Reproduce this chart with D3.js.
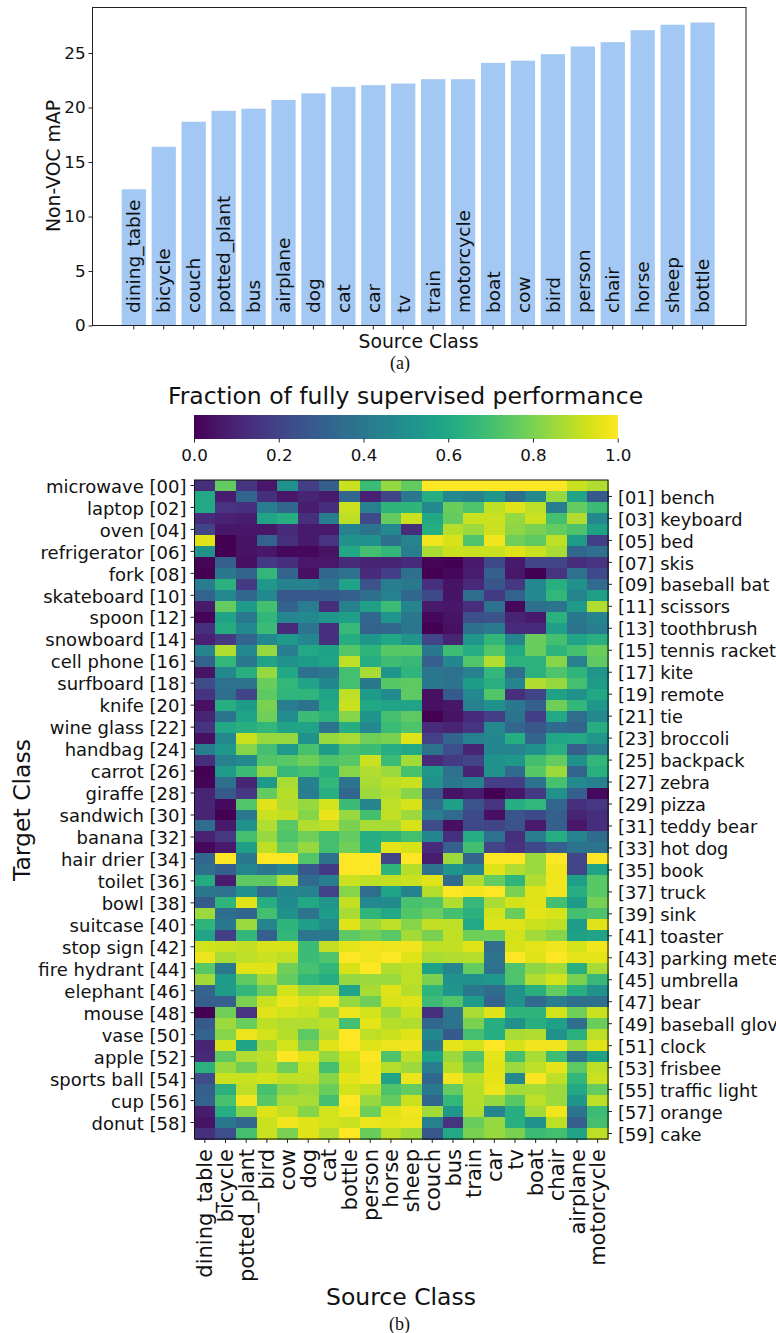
<!DOCTYPE html>
<html>
<head>
<meta charset="utf-8">
<script src="https://cdn.jsdelivr.net/npm/d3@7"></script>
<style>
  html, body { margin: 0; padding: 0; background: #fff; overflow: hidden; }
  text { font-family: "DejaVu Sans", sans-serif; fill: #111; }
  .caption { font-family: "Liberation Serif", serif; }
  .domain, .tick line { stroke: #222; }
  .cell { shape-rendering: crispEdges; }
</style>
</head>
<body>
<div id="chart"></div>
<script>
const barClasses = ["dining_table", "bicycle", "couch", "potted_plant", "bus", "airplane", "dog", "cat", "car", "tv",
    "train", "motorcycle", "boat", "cow", "bird", "person", "chair", "horse", "sheep", "bottle"];
const barValues = [12.5, 16.4, 18.7, 19.7, 19.9, 20.7, 21.3, 21.9, 22.05, 22.2,
    22.6, 22.6, 24.1, 24.3, 24.9, 25.6, 26, 27.1, 27.6, 27.8];

const sourceClasses = ["dining_table", "bicycle", "potted_plant", "bird", "cow", "dog", "cat", "bottle", "person", "horse",
    "sheep", "couch", "bus", "train", "car", "tv", "boat", "chair", "airplane", "motorcycle"];
const targetClasses = ["microwave", "bench", "laptop", "keyboard", "oven", "bed", "refrigerator", "skis", "fork", "baseball bat",
    "skateboard", "scissors", "spoon", "toothbrush", "snowboard", "tennis racket", "cell phone", "kite", "surfboard", "remote",
    "knife", "tie", "wine glass", "broccoli", "handbag", "backpack", "carrot", "zebra", "giraffe", "pizza",
    "sandwich", "teddy bear", "banana", "hot dog", "hair drier", "book", "toilet", "truck", "bowl", "sink",
    "suitcase", "toaster", "stop sign", "parking meter", "fire hydrant", "umbrella", "elephant", "bear", "mouse", "baseball glove",
    "vase", "clock", "apple", "frisbee", "sports ball", "traffic light", "cup", "orange", "donut", "cake"];

// one row per target class, one column per source class
const fractions = [
    [.13,.76,.15,.06,.5,.18,.3,.92,.68,.84,.76,1,1,1,1,1,1,1,.92,.88],
    [.6,.08,.33,.14,.06,.1,.07,.33,.09,.2,.4,.62,.47,.45,.52,.36,.47,.84,.58,.28],
    [.6,.15,.14,.42,.33,.08,.13,.92,.43,.65,.65,.47,.77,.72,.9,.95,.9,.42,.76,.68],
    [.12,.09,.08,.58,.62,.14,.42,.9,.22,.76,.92,.6,.76,.92,.92,.84,.92,.7,.88,.47],
    [.2,.06,.06,.06,.12,.07,.07,.44,.38,.47,.13,.62,.89,.85,.92,.83,.8,.76,.72,.57],
    [.95,0,.05,.31,.14,.07,.15,.5,.5,.36,.45,.98,.94,.72,.98,.78,.75,.9,.55,.18],
    [.5,0,.05,.06,.02,.02,.05,.6,.7,.66,.42,.87,.92,.92,.92,.95,.92,.87,.33,.37],
    [.01,.3,.04,.17,.13,.06,.06,.12,.1,.1,.12,.01,0,.07,.22,.07,.2,.21,.13,.15],
    [0,.4,.32,.66,.32,.04,.33,.37,.12,.18,.36,0,.02,.08,.3,.06,0,.15,.37,.22],
    [.42,.64,.17,.53,.44,.44,.38,.58,.25,.42,.4,.14,.05,.11,.26,.16,.47,.63,.5,.34],
    [.32,.47,.33,.47,.27,.27,.28,.3,.36,.43,.33,.22,.05,.35,.17,.31,.47,.66,.45,.56],
    [.07,.76,.55,.7,.31,.42,.13,.43,.57,.68,.45,.07,.06,.13,.37,.02,.36,.38,.55,.88],
    [.01,.58,.4,.66,.46,.47,.53,.56,.33,.52,.4,.02,.05,.24,.25,.1,.07,.64,.4,.45],
    [.14,.61,.47,.68,.12,.39,.14,.67,.31,.33,.39,0,.04,.36,.41,.12,.12,.56,.38,.42],
    [.09,.17,.32,.47,.54,.46,.14,.62,.53,.6,.52,.21,.1,.52,.66,.45,.77,.7,.58,.63],
    [.45,.88,.47,.84,.42,.6,.57,.73,.65,.74,.74,.4,.69,.62,.73,.6,.77,.65,.7,.77],
    [.31,.66,.4,.58,.5,.55,.58,.9,.62,.69,.67,.3,.46,.73,.88,.64,.64,.82,.43,.75],
    [.05,.47,.63,.84,.6,.37,.4,.7,.87,.52,.65,.39,.37,.43,.66,.36,.64,.72,.65,.52],
    [.23,.37,.38,.77,.66,.58,.46,.7,.4,.74,.75,.4,.38,.55,.63,.45,.88,.84,.7,.55],
    [.15,.36,.2,.75,.65,.65,.58,.9,.55,.48,.75,.04,.28,.47,.73,.14,.2,.57,.5,.6],
    [.04,.62,.55,.8,.42,.38,.6,.92,.6,.58,.58,.04,.06,.43,.5,.4,.3,.78,.66,.53],
    [.1,.38,.58,.78,.48,.68,.64,.82,.52,.7,.75,0,.05,.12,.18,.38,.18,.6,.35,.47],
    [.15,.6,.63,.66,.58,.58,.38,.62,.47,.68,.72,.12,.1,.15,.47,.33,.27,.34,.32,.62],
    [.04,.47,.92,.84,.84,.5,.84,.87,.78,.8,.95,.19,.32,.43,.46,.62,.32,.59,.6,.53],
    [.42,.53,.82,.7,.54,.71,.55,.7,.68,.62,.6,.38,.24,.1,.46,.45,.5,.63,.3,.42],
    [.13,.43,.47,.73,.74,.78,.72,.74,.92,.68,.86,.12,.17,.2,.51,.53,.7,.76,.5,.66],
    [0,.55,.68,.84,.67,.7,.63,.82,.88,.85,.71,.53,.37,.1,.5,.34,.74,.85,.32,.63],
    [.01,.36,.1,.54,.87,.43,.66,.38,.87,.9,.92,.5,.39,.43,.18,.18,.38,.71,.47,.43],
    [.1,.28,.16,.76,.89,.42,.63,.33,.85,.88,.82,.28,.05,.08,0,.06,.17,.5,.3,.02],
    [.1,.03,.73,.95,.88,.84,.93,.68,.45,.9,.94,.35,.56,.25,.15,.62,.66,.33,.14,.16],
    [.1,0,.4,.92,.91,.82,.97,.84,.7,.91,.85,.42,.34,.22,.04,.26,.22,.3,.1,.13],
    [.35,.07,.5,.88,.74,.88,.91,.8,.87,.87,.94,.23,.04,.22,.2,.25,.07,.3,.06,.13],
    [.09,.16,.7,.84,.72,.78,.7,.76,.62,.65,.7,.46,.14,.62,.37,.14,.42,.62,.45,.34],
    [.02,.07,.56,.9,.76,.84,.7,.78,.62,.96,.94,.12,.3,.7,.2,.15,.22,.3,.38,.38],
    [.33,1,.4,1,1,.73,.38,1,1,.2,1,.08,.85,.32,1,1,.85,1,.2,1],
    [.36,.3,.45,.4,.46,.27,.17,1,1,.65,.89,.37,.52,.47,.95,.88,.85,.98,.2,.58],
    [.61,.08,.75,.75,.88,.34,.42,.92,.9,.91,.92,.95,.34,.88,.76,.65,.88,.98,.56,.74],
    [.4,.37,.5,.34,.46,.44,.19,.82,.35,.58,.44,.89,1,.98,1,.8,.95,.98,.62,.74],
    [.28,.65,.95,.62,.48,.6,.52,.91,.47,.48,.71,.73,.88,.67,.87,.93,.95,.7,.55,.79],
    [.85,.36,.33,.7,.5,.38,.55,.87,.65,.6,.73,.77,.7,.64,.93,.77,.96,.94,.7,.72],
    [.65,.4,.85,.45,.65,.56,.48,.95,.85,.9,.82,.91,.9,.6,.95,.95,.92,.9,.55,.95],
    [.58,.18,.66,.3,.66,.39,.41,.75,.78,.74,.86,.8,.9,.78,.78,.93,.86,.82,.57,.58],
    [.93,.92,.91,.94,.94,.68,.91,.96,.98,.97,.98,.9,.91,.95,.35,.94,.96,.98,.93,.98],
    [.97,.87,.9,.92,.9,.68,.72,1,.98,1,.95,.87,.88,.89,.38,1,.95,1,.96,.96],
    [.74,.4,.95,.95,.78,.71,.66,.94,1,.88,.9,.57,.45,.76,.37,.72,.83,.86,.63,.87],
    [.86,.55,.75,.86,.76,.66,.62,.84,.85,.85,.9,.8,.5,.5,.53,.72,.88,.93,.8,.67],
    [.32,.55,.66,.77,.93,.85,.87,.58,.87,.95,.89,.65,.52,.4,.35,.5,.63,.76,.62,.5],
    [.3,.3,.8,.92,.97,.94,.98,.84,.78,.94,.95,.68,.73,.55,.32,.5,.34,.42,.36,.36],
    [0,.78,.15,.95,.93,.92,.84,.97,.93,.85,.92,.14,.38,.87,.95,.65,.65,.93,.78,.92],
    [.27,.85,.77,.9,.88,.88,.9,.7,.96,.89,.88,.33,.38,.8,.62,.5,.63,.57,.36,.77],
    [.32,.82,.97,.93,.89,.75,.88,1,.9,.92,.95,.46,.28,.7,.62,.87,.88,.5,.63,.9],
    [.1,.94,.58,.86,.93,.8,.95,1,.95,.97,.98,.4,.96,.93,1,.94,.98,.98,.85,.95],
    [.12,.75,.88,.9,1,.95,.84,.93,1,.72,.9,.57,.85,.72,.96,.7,.87,.69,.39,.57],
    [.64,.85,.78,.89,.78,.92,.7,.92,.98,.89,.85,.42,.89,.77,.95,.85,.9,.96,.75,.9],
    [.23,.92,.92,.93,.9,.91,.82,.96,.98,.58,.97,.33,.98,.9,.96,.47,.99,.9,.66,.92],
    [.3,.64,.9,.71,.82,.85,.77,.93,.9,.72,.76,.4,.76,.89,.97,.86,.87,.85,.6,.76],
    [.31,.71,.98,.74,.87,.87,.7,1,.84,.76,.92,.33,.66,.89,.84,.74,.9,.85,.52,.9],
    [.08,.62,.82,.95,.91,.82,.93,.98,.78,.95,.98,.86,.52,.88,.45,.62,.86,.98,.38,.68],
    [.05,.4,.33,.92,.98,.95,.93,.92,.97,.96,.97,.43,.15,.77,.84,.63,.5,.9,.3,.7],
    [.14,.24,.7,.92,.8,.95,.88,1,.77,.9,.86,.27,.6,.8,.84,.8,.68,.7,.58,.9]
];

const colorTicks = [0, 0.2, 0.4, 0.6, 0.8, 1];
const barTicks = [0, 5, 10, 15, 20, 25];

const width = 776, height = 1333;
const tickFont = 16.7;

const svg = d3.select("#chart").append("svg")
    .attr("width", width)
    .attr("height", height);

// (a) bar chart
const bar = { left: 92.5, right: 746, top: 7.5, bottom: 325.5 };

const xBar = d3.scaleBand()
    .domain(barClasses)
    .range([118.7, 717.7])
    .paddingInner(0.19)
    .paddingOuter(0.1);

const yBar = d3.scaleLinear()
    .domain([0, 29.18])
    .range([bar.bottom, bar.top]);

svg.append("g")
    .selectAll("rect")
    .data(barClasses)
    .join("rect")
    .attr("x", d => xBar(d))
    .attr("y", (d, i) => yBar(barValues[i]))
    .attr("width", xBar.bandwidth())
    .attr("height", (d, i) => yBar(0) - yBar(barValues[i]))
    .attr("fill", "#a2c8f3");

svg.append("rect")
    .attr("x", bar.left)
    .attr("y", bar.top)
    .attr("width", bar.right - bar.left)
    .attr("height", bar.bottom - bar.top)
    .attr("fill", "none")
    .attr("stroke", "#222");

svg.append("g")
    .attr("transform", `translate(${bar.left},0)`)
    .call(d3.axisLeft(yBar).tickValues(barTicks).tickSize(4).tickPadding(3))
    .call(g => g.select(".domain").remove())
    .call(g => g.selectAll(".tick text").attr("font-size", tickFont).attr("font-family", null));

svg.append("g")
    .attr("transform", `translate(0,${bar.bottom})`)
    .call(d3.axisBottom(xBar).tickSize(4).tickFormat(""))
    .call(g => g.select(".domain").remove());

svg.append("g")
    .selectAll("text")
    .data(barClasses)
    .join("text")
    .attr("transform", d => `translate(${xBar(d) + xBar.bandwidth() / 2},313) rotate(-90)`)
    .attr("dy", "0.36em")
    .attr("font-size", 18.5)
    .text(d => d);

svg.append("text")
    .attr("transform", "translate(53,166) rotate(-90)")
    .attr("text-anchor", "middle")
    .attr("dy", "0.36em")
    .attr("font-size", 18.8)
    .text("Non-VOC mAP");

svg.append("text")
    .attr("x", 418.5)
    .attr("y", 348)
    .attr("text-anchor", "middle")
    .attr("font-size", 18.8)
    .text("Source Class");

svg.append("text")
    .attr("class", "caption")
    .attr("x", 400)
    .attr("y", 369)
    .attr("text-anchor", "middle")
    .attr("font-size", 18)
    .text("(a)");

// colour bar
const color = d3.scaleSequential(d3.interpolateViridis).domain([0, 1]);
const xColor = d3.scaleLinear().domain([0, 1]).range([194, 617.7]);

svg.append("text")
    .attr("x", 405.5)
    .attr("y", 404)
    .attr("text-anchor", "middle")
    .attr("font-size", 23.5)
    .text("Fraction of fully supervised performance");

svg.append("g")
    .selectAll("rect")
    .data(d3.range(0, 1, 1 / 256))
    .join("rect")
    .attr("class", "cell")
    .attr("x", d => xColor(d))
    .attr("y", 415)
    .attr("width", (xColor(1) - xColor(0)) / 256 + 0.5)
    .attr("height", 23.5)
    .attr("fill", d => color(d));

svg.append("g")
    .attr("transform", "translate(0,438.5)")
    .call(d3.axisBottom(xColor).tickValues(colorTicks).tickFormat(d3.format(".1f")).tickSize(4).tickPadding(7))
    .call(g => g.select(".domain").remove())
    .call(g => g.selectAll(".tick text").attr("font-size", tickFont).attr("font-family", null));

// (b) heat map
const heat = { left: 194.5, right: 608, top: 480, bottom: 1139 };

const xHeat = d3.scaleBand()
    .domain(sourceClasses)
    .range([heat.left, heat.right]);

const yHeat = d3.scaleBand()
    .domain(targetClasses)
    .range([heat.top, heat.bottom]);

svg.append("g")
    .selectAll("g")
    .data(fractions)
    .join("g")
    .selectAll("rect")
    .data((row, r) => row.map((v, c) => ({ v, c, r })))
    .join("rect")
    .attr("class", "cell")
    .attr("x", d => xHeat(sourceClasses[d.c]))
    .attr("y", d => yHeat(targetClasses[d.r]))
    .attr("width", xHeat.bandwidth() + 0.5)
    .attr("height", yHeat.bandwidth() + 0.5)
    .attr("fill", d => color(d.v));

svg.append("rect")
    .attr("x", heat.left)
    .attr("y", heat.top)
    .attr("width", heat.right - heat.left)
    .attr("height", heat.bottom - heat.top)
    .attr("fill", "none")
    .attr("stroke", "#111");

const targetLabel = d => `${d} [${String(targetClasses.indexOf(d)).padStart(2, "0")}]`;
const rightLabel = d => `[${String(targetClasses.indexOf(d)).padStart(2, "0")}] ${d}`;

svg.append("g")
    .attr("transform", `translate(${heat.left},0)`)
    .call(d3.axisLeft(yHeat).tickValues(targetClasses.filter((d, i) => i % 2 === 0)).tickFormat(targetLabel).tickSize(4).tickPadding(4))
    .call(g => g.select(".domain").remove())
    .call(g => g.selectAll(".tick text").attr("font-size", 18).attr("font-family", null).attr("dy", "0.4em"));

svg.append("g")
    .attr("transform", `translate(${heat.right},0)`)
    .call(d3.axisRight(yHeat).tickValues(targetClasses.filter((d, i) => i % 2 === 1)).tickFormat(rightLabel).tickSize(4).tickPadding(6))
    .call(g => g.select(".domain").remove())
    .call(g => g.selectAll(".tick text").attr("font-size", 17.8).attr("font-family", null).attr("dy", "0.4em"));

svg.append("g")
    .attr("transform", `translate(0,${heat.bottom})`)
    .call(d3.axisBottom(xHeat).tickSize(4))
    .call(g => g.select(".domain").remove())
    .call(g => g.selectAll(".tick text")
        .attr("font-size", 21)
        .attr("font-family", null)
        .attr("text-anchor", "end")
        .attr("transform", "rotate(-90)")
        .attr("x", -10)
        .attr("y", 0)
        .attr("dy", "0.36em"));

svg.append("text")
    .attr("transform", "translate(22,810) rotate(-90)")
    .attr("text-anchor", "middle")
    .attr("dy", "0.36em")
    .attr("font-size", 23.5)
    .text("Target Class");

svg.append("text")
    .attr("x", 401)
    .attr("y", 1305)
    .attr("text-anchor", "middle")
    .attr("font-size", 23.5)
    .text("Source Class");

svg.append("text")
    .attr("class", "caption")
    .attr("x", 399.5)
    .attr("y", 1330)
    .attr("text-anchor", "middle")
    .attr("font-size", 18)
    .text("(b)");
</script>
</body>
</html>
